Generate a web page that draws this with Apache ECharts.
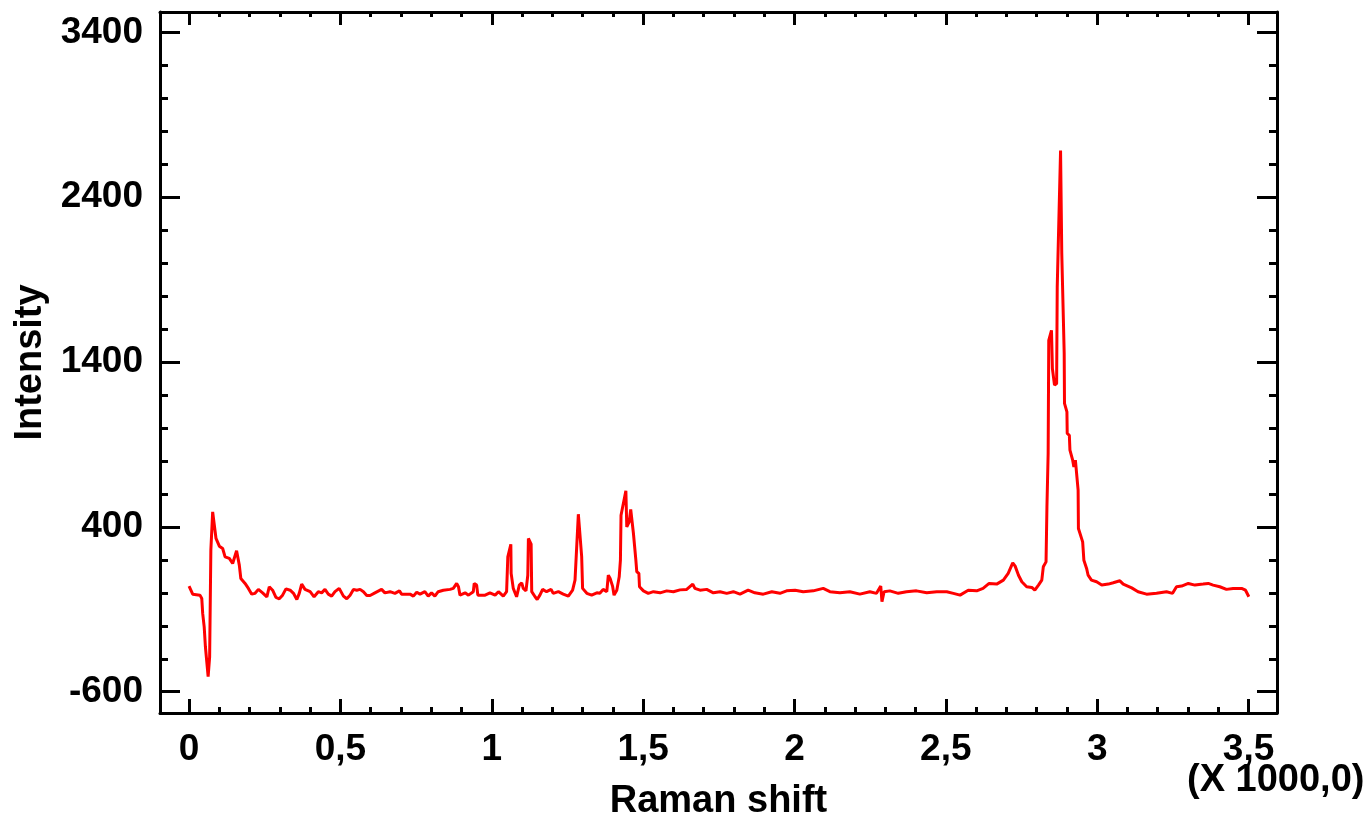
<!DOCTYPE html>
<html>
<head>
<meta charset="utf-8">
<script src="https://cdn.jsdelivr.net/npm/echarts@6/dist/echarts.min.js"></script>
<style>
html,body{margin:0;padding:0;background:#fff;}
#chart{width:1370px;height:819px;}
</style>
</head>
<body>
<div id="chart"></div>
<script>
// Raman shift (cm^-1)
const ramanShift = [0,12,36,42,45,50,54,60,63,68,72,78,89,100,111,119,133,144,157,166,171,185,196,207,218,229,243,257,265,276,287,298,309,320,334,345,356,364,372,383,400,413,427,438,449,460,471,482,496,510,521,532,543,554,565,576,587,598,614,636,647,664,680,695,702,730,741,752,763,779,790,801,812,823,840,862,873,884,890,895,912,923,939,942,950,954,978,994,1011,1022,1038,1049,1053,1063,1064,1071,1082,1091,1099,1104,1113,1119,1121,1130,1132,1143,1150,1159,1168,1181,1196,1203,1220,1236,1253,1267,1275,1286,1297,1300,1314,1330,1347,1357,1368,1380,1385,1391,1399,1404,1413,1421,1425,1427,1443,1446,1454,1459,1465,1468,1476,1479,1486,1488,1501,1517,1534,1556,1578,1600,1622,1644,1664,1671,1688,1710,1732,1754,1776,1798,1820,1847,1869,1897,1925,1952,1974,2002,2029,2062,2095,2117,2150,2183,2216,2249,2271,2285,2289,2296,2315,2343,2370,2403,2437,2470,2503,2525,2547,2574,2602,2623,2643,2668,2690,2706,2721,2729,2740,2751,2767,2784,2794,2806,2817,2822,2831,2834,2838,2840,2849,2852,2859,2866,2868,2879,2883,2891,2892,2900,2901,2908,2910,2919,2923,2928,2937,2938,2952,2956,2965,2970,2981,2998,3015,3037,3053,3064,3075,3086,3114,3135,3163,3196,3229,3249,3262,3279,3301,3323,3350,3367,3383,3405,3427,3449,3477,3490,3495,3501];
// Intensity
const intensity = [41,-8,-14,-34,-125,-206,-327,-448,-509,-388,259,491,330,283,269,218,209,178,255,168,87,57,27,-8,-3,21,0,-24,37,16,-28,-36,-14,24,16,-3,-40,-3,53,21,7,-24,7,0,21,-8,-20,7,27,-20,-36,-14,21,16,21,7,-16,-16,0,21,0,7,-3,12,-8,-8,-20,4,-8,7,-20,0,-20,7,16,21,27,57,37,-14,0,-14,7,57,47,-14,-14,0,-14,7,-20,7,219,294,118,27,-24,47,61,27,12,107,330,296,7,-24,-40,-14,21,7,21,-3,7,-8,-20,16,77,477,219,27,-3,-14,0,-3,21,7,107,87,41,-14,16,97,198,471,619,400,431,506,506,360,198,128,118,37,12,-3,7,0,12,7,18,21,53,27,16,21,0,7,-3,7,-8,16,0,-8,7,-3,12,16,7,12,27,7,0,7,-8,7,-3,41,-54,7,12,-3,7,12,0,7,7,-3,-14,16,12,27,57,53,77,118,182,162,107,67,37,33,16,47,77,158,188,522,845,1532,1593,1361,1260,1270,1856,2684,2058,1452,1149,1098,967,956,866,805,764,805,623,390,309,198,148,107,77,67,47,53,61,67,73,53,30,7,-8,-3,7,-3,37,41,57,47,53,57,47,37,21,27,27,16,7,-24];

const xMajorTicks = [0,500,1000,1500,2000,2500,3000,3500];
const xMinorTicks = [100,200,300,400,600,700,800,900,1100,1200,1300,1400,1600,1700,1800,1900,2100,2200,2300,2400,2600,2700,2800,2900,3100,3200,3300,3400];
const yMajorTicks = [-600,400,1400,2400,3400];
const yMinorTicks = [-400,-200,0,200,600,800,1000,1200,1600,1800,2000,2200,2600,2800,3000,3200];

const xMin = -96, xMax = 3594, yMin = -729, yMax = 3524;
const FONT = '"Liberation Sans", Arial, sans-serif';

const seriesData = ramanShift.map((x, i) => [x, intensity[i]]);

function xAxisDef(pos, ticks, len, withLine, withLabel) {
  return {
    type: 'value', position: pos, min: xMin, max: xMax,
    axisLine: { show: withLine, onZero: false, lineStyle: { color: '#000', width: 3 } },
    axisTick: { show: true, inside: true, length: len, customValues: ticks, lineStyle: { color: '#000', width: 3 } },
    axisLabel: withLabel ? {
      show: true, customValues: ticks, margin: 18, color: '#000',
      fontFamily: FONT, fontWeight: 'bold', fontSize: 37,
      formatter: v => String(v / 1000).replace('.', ',')
    } : { show: false },
    splitLine: { show: false }
  };
}
function yAxisDef(pos, ticks, len, withLine, withLabel) {
  return {
    type: 'value', position: pos, min: yMin, max: yMax,
    axisLine: { show: withLine, onZero: false, lineStyle: { color: '#000', width: 3 } },
    axisTick: { show: true, inside: true, length: len, customValues: ticks, lineStyle: { color: '#000', width: 3 } },
    axisLabel: withLabel ? {
      show: true, customValues: ticks, margin: 17, color: '#000',
      fontFamily: FONT, fontWeight: 'bold', fontSize: 37,
      formatter: v => String(v)
    } : { show: false },
    splitLine: { show: false }
  };
}

const xa0 = xAxisDef('bottom', xMajorTicks, 14, true, true);
xa0.name = 'Raman shift';
xa0.nameLocation = 'middle';
xa0.nameGap = 70;
xa0.nameTextStyle = { color: '#000', fontFamily: FONT, fontWeight: 'bold', fontSize: 38 };

const ya0 = yAxisDef('left', yMajorTicks, 20, true, true);
ya0.name = 'Intensity';
ya0.nameLocation = 'middle';
ya0.nameGap = 106;
ya0.nameTextStyle = { color: '#000', fontFamily: FONT, fontWeight: 'bold', fontSize: 38 };

const chart = echarts.init(document.getElementById('chart'), null, { renderer: 'canvas' });
chart.setOption({
  animation: false,
  backgroundColor: '#fff',
  grid: { left: 160, top: 12, width: 1117, height: 701, containLabel: false, outerBoundsMode: 'none' },
  xAxis: [
    xa0,
    xAxisDef('bottom', xMinorTicks, 6, false, false),
    xAxisDef('top', xMajorTicks, 13, true, false),
    xAxisDef('top', xMinorTicks, 5, false, false)
  ],
  yAxis: [
    ya0,
    yAxisDef('left', yMinorTicks, 8, false, false),
    yAxisDef('right', yMajorTicks, 20, true, false),
    yAxisDef('right', yMinorTicks, 8, false, false)
  ],
  graphic: [{
    type: 'text', left: 1187, top: 762,
    style: { text: '(X 1000,0)', fill: '#000', font: 'bold 38px ' + FONT }
  }],
  series: [{
    type: 'line', xAxisIndex: 0, yAxisIndex: 0,
    data: seriesData, showSymbol: false, symbol: 'none',
    lineStyle: { color: '#ff0000', width: 3 },
    clip: true
  }]
});
</script>
</body>
</html>
